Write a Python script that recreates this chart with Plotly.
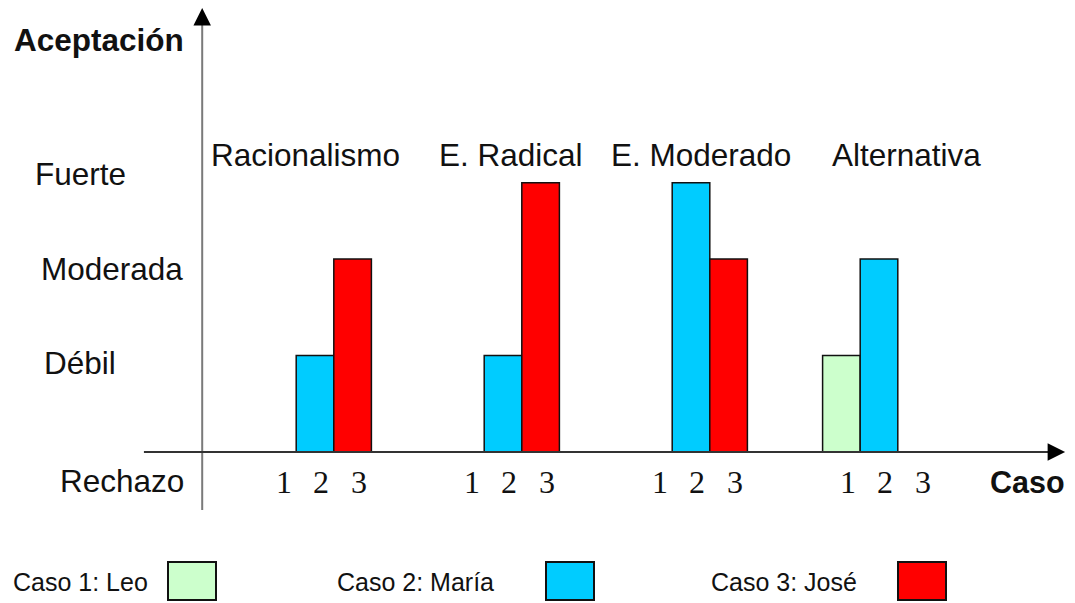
import plotly.graph_objects as go

# --- data -------------------------------------------------------------
groups = ["Racionalismo", "E. Radical", "E. Moderado", "Alternativa"]
cases = [1, 2, 3]
case_names = ["Caso 1: Leo", "Caso 2: María", "Caso 3: José"]
levels = ["Rechazo", "Débil", "Moderada", "Fuerte"]
level_heights = [0.0, 1.0, 2.0, 2.79]   # bar height read for each level

leo = ["Rechazo", "Rechazo", "Rechazo", "Débil"]
maria = ["Débil", "Débil", "Fuerte", "Moderada"]
jose = ["Moderada", "Fuerte", "Moderada", "Rechazo"]
series = [leo, maria, jose]

colors = ["#CCFFCC", "#00CCFF", "#FF0000"]

# --- layout helpers ---------------------------------------------------
OFF = 8                      # page body margin
W, H = 1075 - OFF, 603 - OFF
SANS = "Liberation Sans, Arial, sans-serif"
SERIF = "Liberation Serif, Times New Roman, serif"
TXT = "#111111"
FS = 31.5

# x unit = 37.6 px (group spacing 5 units), y unit = 96.5 px, baseline at 452 px
x0 = 2 - (315 - OFF) / 37.6
y0 = -(H - (452 - OFF)) / 96.5


def P(px, py):
    return (px - OFF) / W, 1 - (py - OFF) / H


fig = go.Figure()

for i, case in enumerate(cases):
    xs = [g * 5 + case for g in range(len(groups))]
    ys = []
    for v in series[i]:
        h = level_heights[levels.index(v)]
        ys.append(h if h > 0 else None)
    fig.add_trace(go.Bar(
        x=xs, y=ys, width=1.0, name=case_names[i],
        marker=dict(color=colors[i], line=dict(color="#111111", width=1.5)),
        showlegend=False, hoverinfo="skip",
    ))

annotations = []
shapes = []


def label(text, px, py, size=FS, family=SANS):
    x, y = P(px, py)
    annotations.append(dict(x=x, y=y, xref="paper", yref="paper", text=text, showarrow=False,
                            xanchor="center", yanchor="middle",
                            font=dict(family=family, size=size, color=TXT)))


# axes lines
shapes.append(dict(type="line", xref="x", yref="y", x0=-1, x1=-1, y0=-0.6, y1=4.5,
                   line=dict(color="#7a7a7a", width=2)))
shapes.append(dict(type="line", xref="x", yref="y", x0=-2.55, x1=21.7, y0=0, y1=0,
                   line=dict(color="#333333", width=2)))
# arrow heads
annotations.append(dict(x=-1, y=4.6, ax=-1, ay=4.45, xref="x", yref="y", axref="x", ayref="y",
                        showarrow=True, arrowhead=2, arrowsize=1.4, arrowwidth=2.5,
                        arrowcolor="#000000", text=""))
annotations.append(dict(x=21.95, y=0, ax=21.55, ay=0, xref="x", yref="y", axref="x", ayref="y",
                        showarrow=True, arrowhead=2, arrowsize=1.4, arrowwidth=2.5,
                        arrowcolor="#000000", text=""))

# axis titles
label("<b>Aceptación</b>", 99, 40)
label("<b>Caso</b>", 1027, 482, size=30.5)

# level labels
level_label_pos = [(122, 481), (80, 363), (112, 269), (80, 174)]
for lv, (px, py) in zip(levels, level_label_pos):
    label(lv, px, py)

# group titles
group_title_x = [305, 511, 701, 906]
for gname, px in zip(groups, group_title_x):
    label(gname, px, 155)

# case numbers under each group
for g in range(len(groups)):
    for case in cases:
        annotations.append(dict(x=g * 5 + case + 0.17, y=-0.31, xref="x", yref="y",
                                text=str(case), showarrow=False,
                                xanchor="center", yanchor="middle",
                                font=dict(family=SERIF, size=32, color=TXT)))

# legend (text then swatch)
legend_text_x = [80, 415, 784]
legend_swatch_x = [(168, 216), (546, 594), (898, 946)]
for name, tx, (sx0, sx1), col in zip(case_names, legend_text_x, legend_swatch_x, colors):
    label(name, tx, 582, size=25)
    ax0, ay0 = P(sx0, 600)
    ax1, ay1 = P(sx1, 562)
    shapes.append(dict(type="rect", xref="paper", yref="paper",
                       x0=ax0, x1=ax1, y0=ay0, y1=ay1,
                       fillcolor=col, line=dict(color="#111111", width=2)))

fig.update_layout(
    width=W, height=H,
    margin=dict(l=0, r=0, t=0, b=0),
    paper_bgcolor="white", plot_bgcolor="white",
    barmode="overlay",
    xaxis=dict(range=[x0, x0 + W / 37.6], visible=False, fixedrange=True),
    yaxis=dict(range=[y0, y0 + H / 96.5], visible=False, fixedrange=True),
    annotations=annotations,
    shapes=shapes,
)

fig.write_html("out.html", config={"displayModeBar": False})
